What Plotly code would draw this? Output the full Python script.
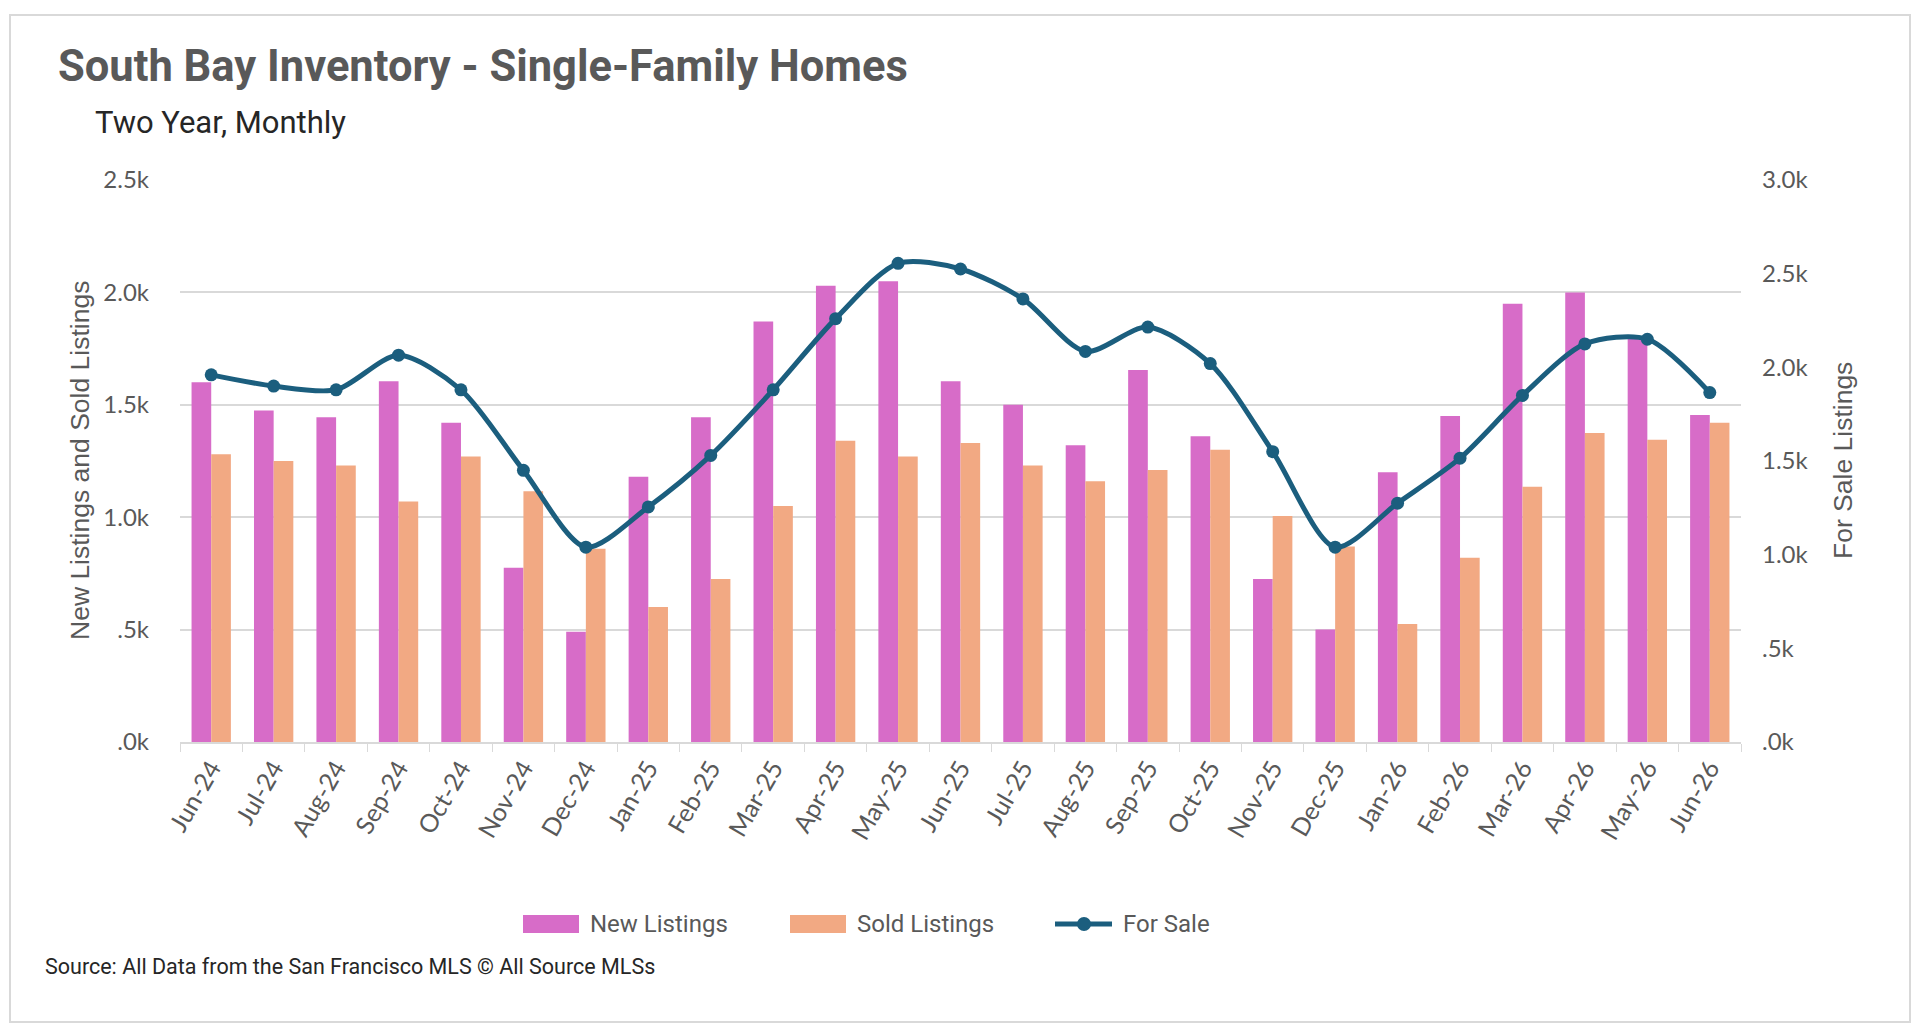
import plotly.graph_objects as go

# months on the category axis
months = ["Jun-24", "Jul-24", "Aug-24", "Sep-24", "Oct-24", "Nov-24", "Dec-24",
          "Jan-25", "Feb-25", "Mar-25", "Apr-25", "May-25", "Jun-25", "Jul-25",
          "Aug-25", "Sep-25", "Oct-25", "Nov-25", "Dec-25", "Jan-26", "Feb-26",
          "Mar-26", "Apr-26", "May-26", "Jun-26"]

new_listings = [1600, 1475, 1445, 1605, 1420, 775, 490, 1180, 1445, 1870, 2030,
                2050, 1605, 1500, 1320, 1655, 1360, 725, 500, 1200, 1450, 1950,
                2000, 1800, 1455]

sold_listings = [1280, 1250, 1230, 1070, 1270, 1115, 860, 600, 725, 1050, 1340,
                 1270, 1330, 1230, 1160, 1210, 1300, 1005, 870, 525, 820, 1135,
                 1375, 1345, 1420]

for_sale = [1960, 1900, 1880, 2065, 1880, 1450, 1040, 1255, 1530, 1880, 2260,
            2555, 2525, 2365, 2085, 2215, 2020, 1550, 1040, 1275, 1515, 1850,
            2125, 2150, 1865]

left_ticks = [0, 500, 1000, 1500, 2000, 2500]
left_labels = [".0k", ".5k", "1.0k", "1.5k", "2.0k", "2.5k"]
right_ticks = [0, 500, 1000, 1500, 2000, 2500, 3000]
right_labels = [".0k", ".5k", "1.0k", "1.5k", "2.0k", "2.5k", "3.0k"]

PINK = "#D76CC8"
PEACH = "#F2A983"
TEAL = "#1B5E7E"
GREY = "#595959"
DARK = "#262626"
GRID = "#D9D9D9"

HEAD_FONT = "Roboto, sans-serif"
TICK_FONT = "Lato, sans-serif"
AXIS_FONT = "Liberation Sans, Arial, sans-serif"

# plot area in pixels (figure is 1920 x 1032)
L, R, T, B = 180, 1741, 180, 742
W, H = R - L, B - T


def px(x):
    return (x - L) / W


def py(y):
    return (B - y) / H


fig = go.Figure()

fig.add_trace(go.Bar(
    x=months, y=new_listings, name="New Listings",
    marker=dict(color=PINK, line=dict(width=0)),
))
fig.add_trace(go.Bar(
    x=months, y=sold_listings, name="Sold Listings",
    marker=dict(color=PEACH, line=dict(width=0)),
))
fig.add_trace(go.Scatter(
    x=months, y=for_sale, name="For Sale", yaxis="y2",
    mode="lines+markers",
    line=dict(color=TEAL, width=5, shape="spline", smoothing=0.8),
    marker=dict(color=TEAL, size=13),
))

fig.update_layout(
    width=1920, height=1032,
    margin=dict(l=L, r=1920 - R, t=T, b=1032 - B),
    paper_bgcolor="white", plot_bgcolor="white",
    barmode="group", bargap=0.37, bargroupgap=0,
    font=dict(family=TICK_FONT, color=GREY, size=20),
    showlegend=False,
    xaxis=dict(
        type="category", range=[-0.5, len(months) - 0.5],
        tickangle=-60, tickson="boundaries",
        ticks="outside", ticklen=8, tickcolor=GRID,
        showline=True, linecolor=GRID, linewidth=1.5,
        showgrid=False, tickfont=dict(size=25, color=GREY),
    ),
    yaxis=dict(
        range=[0, 2500], tickvals=left_ticks, ticktext=left_labels,
        showgrid=True, gridcolor=GRID, gridwidth=1.5, zeroline=False,
        showline=False, ticks="", ticklabelstandoff=30,
        tickfont=dict(size=24, color=GREY),
    ),
    yaxis2=dict(
        range=[0, 3000], tickvals=right_ticks, ticktext=right_labels,
        overlaying="y", side="right", showgrid=False, zeroline=False,
        showline=False, ticks="", ticklabelstandoff=20,
        tickfont=dict(size=24, color=GREY),
    ),
)

# titles and source line
fig.add_annotation(
    text="<b>South Bay Inventory - Single-Family Homes</b>",
    xref="paper", yref="paper", x=px(56), y=py(67),
    xanchor="left", yanchor="middle", showarrow=False,
    font=dict(family=HEAD_FONT, size=43.5, color=GREY),
)
fig.add_annotation(
    text="Two Year, Monthly",
    xref="paper", yref="paper", x=px(93), y=py(122),
    xanchor="left", yanchor="middle", showarrow=False,
    font=dict(family=HEAD_FONT, size=31, color=DARK),
)
fig.add_annotation(
    text="Source: All Data from the San Francisco MLS © All Source MLSs",
    xref="paper", yref="paper", x=px(43), y=py(967),
    xanchor="left", yanchor="middle", showarrow=False,
    font=dict(family=HEAD_FONT, size=21.5, color=DARK),
)

# axis titles
fig.add_annotation(
    text="New Listings and Sold Listings",
    xref="paper", yref="paper", x=px(80), y=0.5,
    xanchor="center", yanchor="middle", textangle=-90, showarrow=False,
    font=dict(family=AXIS_FONT, size=26.5, color=GREY),
)
fig.add_annotation(
    text="For Sale Listings",
    xref="paper", yref="paper", x=px(1843), y=0.5,
    xanchor="center", yanchor="middle", textangle=-90, showarrow=False,
    font=dict(family=AXIS_FONT, size=26.5, color=GREY),
)

# legend drawn by hand so the swatches are wide bars like the original
leg_y = 924
fig.add_shape(type="rect", xref="paper", yref="paper",
              x0=px(523), x1=px(579), y0=py(leg_y + 9), y1=py(leg_y - 9),
              fillcolor=PINK, line=dict(width=0))
fig.add_shape(type="rect", xref="paper", yref="paper",
              x0=px(790), x1=px(846), y0=py(leg_y + 9), y1=py(leg_y - 9),
              fillcolor=PEACH, line=dict(width=0))
fig.add_shape(type="line", xref="paper", yref="paper",
              x0=px(1055), x1=px(1112), y0=py(leg_y), y1=py(leg_y),
              line=dict(color=TEAL, width=5))
fig.add_shape(type="circle", xref="paper", yref="paper",
              x0=px(1077), x1=px(1091), y0=py(leg_y + 7), y1=py(leg_y - 7),
              fillcolor=TEAL, line=dict(width=0))
for label, x in [("New Listings", 588), ("Sold Listings", 855), ("For Sale", 1121)]:
    fig.add_annotation(
        text=label, xref="paper", yref="paper", x=px(x), y=py(leg_y),
        xanchor="left", yanchor="middle", showarrow=False,
        font=dict(family=HEAD_FONT, size=24, color=GREY),
    )

# light frame around the whole chart
fig.add_shape(
    type="rect", xref="paper", yref="paper",
    x0=px(10), x1=px(1910), y0=py(1022), y1=py(15),
    line=dict(color=GRID, width=2), layer="below",
)

fig.write_html("out.html", config={"displayModeBar": False},
               post_script="document.body.style.margin='0';")
